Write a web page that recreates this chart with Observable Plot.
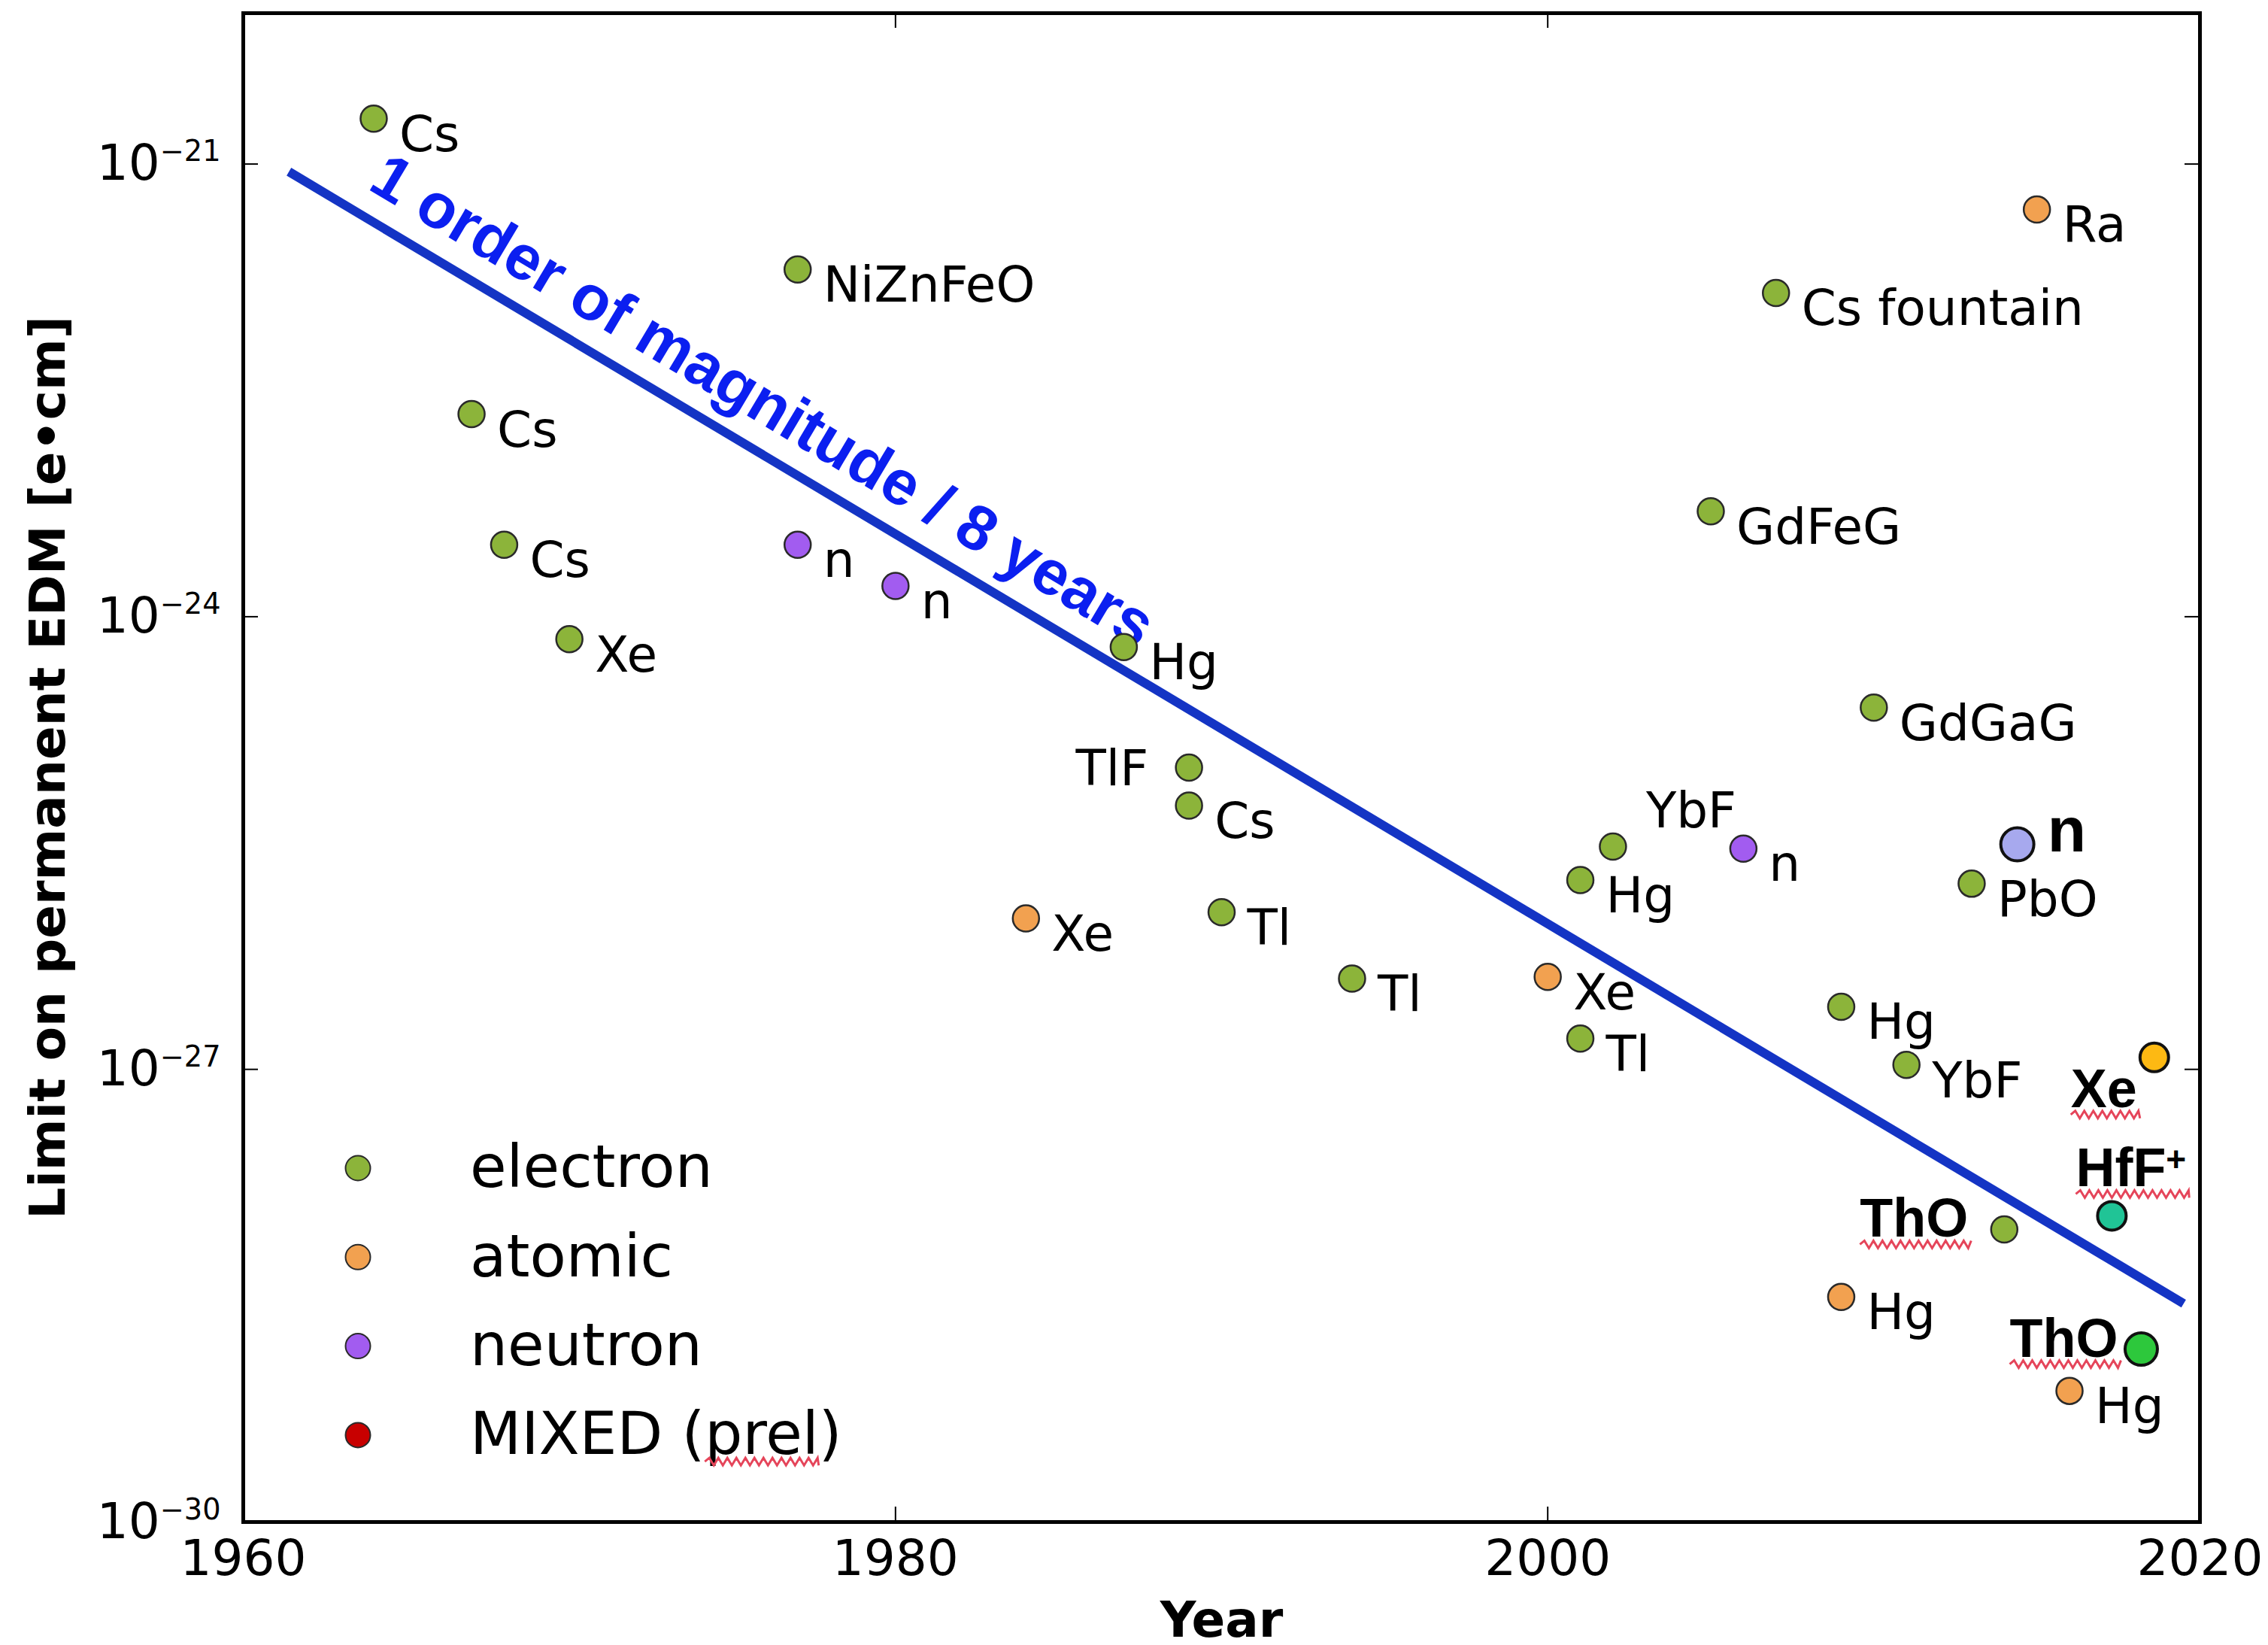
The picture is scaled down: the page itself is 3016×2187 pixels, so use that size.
<!DOCTYPE html>
<html>
<head>
<meta charset="utf-8">
<script src="https://cdn.jsdelivr.net/npm/d3@7"></script>
<script src="https://cdn.jsdelivr.net/npm/@observablehq/plot@0.6"></script>
<style>
  body { margin: 0; background: #fff; }
  #chart { width: 3016px; height: 2187px; }
</style>
</head>
<body>
<div id="chart"></div>
<script>
// ---- Data: upper limits on permanent electric dipole moments ----
const names = ["Cs", "Cs", "Cs", "Xe", "NiZnFeO", "Hg", "TlF", "Cs", "Tl", "Tl", "Hg", "YbF", "Tl", "GdFeG",
  "Cs fountain", "Hg", "GdGaG", "YbF", "PbO", "ThO",
  "Xe", "Xe", "Hg", "Ra", "Hg",
  "n", "n", "n"];
const years = [1964, 1967, 1968, 1970, 1977, 1987, 1989, 1989, 1990, 1994, 2001, 2002, 2001, 2005,
  2007, 2009, 2010, 2011, 2013, 2014,
  1984, 2000, 2009, 2015, 2016,
  1977, 1980, 2006];
const limits = [2.0e-21, 2.2e-23, 3.0e-24, 7.1e-25, 2.0e-22, 6.3e-25, 1.0e-25, 5.6e-26, 1.1e-26, 4.0e-27, 1.8e-26, 3.0e-26, 1.6e-27, 5.0e-24,
  1.4e-22, 2.6e-27, 2.5e-25, 1.07e-27, 1.7e-26, 8.7e-29,
  1.0e-26, 4.1e-27, 3.1e-29, 5.0e-22, 7.4e-30,
  3.0e-24, 1.6e-24, 2.9e-26];
const kinds = ["electron", "electron", "electron", "electron", "electron", "electron", "electron", "electron", "electron", "electron",
  "electron", "electron", "electron", "electron", "electron", "electron", "electron", "electron", "electron", "electron",
  "atomic", "atomic", "atomic", "atomic", "atomic",
  "neutron", "neutron", "neutron"];

// Most recent results, drawn larger
const recentNames = ["n", "Xe", "HfF+", "ThO"];
const recentYears = [2014.4, 2018.6, 2017.3, 2018.2];
const recentLimits = [3.1e-26, 1.2e-27, 1.07e-28, 1.4e-29];

// Trend line: one order of magnitude every ~8 years
const trendYears = [1961.4, 2019.5];
const trendLimits = [8.9e-22, 2.8e-29];
const trendText = "1 order of magnitude / 8 years";

// Axes
const xDomain = [1960, 2020];
const yDomain = [1e-30, 1e-20];
const xTicks = [1960, 1980, 2000, 2020];
const yTicks = [1e-30, 1e-27, 1e-24, 1e-21];
const xLabel = "Year";
const yLabel = "Limit on permanent EDM [e\u2022cm]";

// Legend
const legendKinds = ["electron", "atomic", "neutron", "MIXED"];
const legendLabels = ["electron", "atomic", "neutron", "MIXED (prel)"];

// ---- Styles ----
const W = 3016, H = 2187;
const M = {top: 17, right: 91, bottom: 164, left: 323};
const PW = W - M.left - M.right, PH = H - M.top - M.bottom;
const baseFont = "'DejaVu Sans', sans-serif";
const boldFont = "'Liberation Sans', Arial, sans-serif";
const kindFill = {electron: "#8cb43a", atomic: "#f2a150", neutron: "#a25cf0", MIXED: "#c80000"};
const recentFill = {"n": "#a7a9ee", "Xe": "#fdb913", "HfF+": "#20c496", "ThO": "#2dc83c"};
const recentR = {"n": 22, "Xe": 19, "HfF+": 19, "ThO": 21.5};
const lineBlue = "#1434c4";
const textBlue = "#0b1ff0";
const squiggleRed = "#e5455a";

// Label placement (pixel offsets from the dot; baseline at dy)
const defaultPlacement = {textAnchor: "start", dx: 34, dy: 43};
const labelPlacement = {
  "TlF|1989": {textAnchor: "end", dx: -54, dy: 23},
  "YbF|2002": {textAnchor: "start", dx: 44, dy: -25},
  "ThO|2014": {textAnchor: "end", dx: -48, dy: 10, bold: true, flagged: true}
};
const recentPlacement = {
  "n": {textAnchor: "start", dx: 40, dy: 9, fontSize: 84},
  "Xe": {textAnchor: "end", dx: -23, dy: 66, flagged: true},
  "HfF+": {textAnchor: "start", dx: -48, dy: -39, flagged: true},
  "ThO": {textAnchor: "end", dx: -31, dy: 10, flagged: true}
};

// ---- Tables ----
const points = years.map((year, i) => ({year, limit: limits[i], name: names[i], kind: kinds[i], key: `${names[i]}|${year}`}));
const recent = recentYears.map((year, i) => ({year, limit: recentLimits[i], name: recentNames[i]}));
const trend = trendYears.map((year, i) => ({year, limit: trendLimits[i]}));

// Caption sits a short way along the trend line, parallel to it
const xs = d3.scaleLinear(xDomain, [M.left, W - M.right]);
const ys = d3.scaleLog(yDomain, [H - M.bottom, M.top]);
const angle = Math.atan2(ys(trendLimits[1]) - ys(trendLimits[0]), xs(trendYears[1]) - xs(trendYears[0])) * 180 / Math.PI;
const rad = angle * Math.PI / 180;
const captionT = 0.034, captionGap = 34;
const caption = [{
  year: trendYears[0] + captionT * (trendYears[1] - trendYears[0]),
  limit: Math.exp(Math.log(trendLimits[0]) + captionT * (Math.log(trendLimits[1]) - Math.log(trendLimits[0]))),
  text: trendText
}];

const labelMark = (data, p, bold) => Plot.text(data, {
  x: "year", y: "limit", text: "name",
  textAnchor: p.textAnchor, lineAnchor: "bottom", dx: p.dx, dy: p.dy,
  fontSize: p.fontSize ?? (bold ? 72 : 66),
  fontFamily: bold ? boldFont : baseFont,
  fontWeight: bold ? "bold" : "normal",
  fill: "black",
  ariaLabel: d => p.flagged ? "flagged label" : d.name
});

const marks = [
  Plot.line(trend, {x: "year", y: "limit", stroke: lineBlue, strokeWidth: 12, strokeLinecap: "butt"}),
  Plot.text(caption, {
    x: "year", y: "limit", text: "text", rotate: angle,
    textAnchor: "start", lineAnchor: "bottom",
    dx: captionGap * Math.sin(rad), dy: -captionGap * Math.cos(rad),
    fontFamily: boldFont, fontWeight: "bold", fontSize: 84, fill: textBlue
  }),
  Plot.dot(points, {x: "year", y: "limit", r: 17.5, fill: d => kindFill[d.kind], stroke: "#2a2a2a", strokeWidth: 2.5}),
  ...recent.map(d => Plot.dot([d], {x: "year", y: "limit", r: recentR[d.name], fill: recentFill[d.name], stroke: "#111", strokeWidth: 4})),
  labelMark(points.filter(d => !labelPlacement[d.key]), defaultPlacement, false),
  ...Object.entries(labelPlacement).map(([key, p]) => labelMark(points.filter(d => d.key === key), p, !!p.bold)),
  ...recent.map(d => labelMark([d], recentPlacement[d.name], true)),
  // inward tick marks on all four sides
  Plot.tickY(yTicks, {y: d => d, insetRight: PW - 20, stroke: "black", strokeWidth: 2}),
  Plot.tickY(yTicks, {y: d => d, insetLeft: PW - 20, stroke: "black", strokeWidth: 2}),
  Plot.tickX(xTicks, {x: d => d, insetTop: PH - 20, stroke: "black", strokeWidth: 2}),
  Plot.tickX(xTicks, {x: d => d, insetBottom: PH - 20, stroke: "black", strokeWidth: 2}),
  Plot.frame({stroke: "black", strokeWidth: 5}),
  Plot.axisX({ticks: xTicks, anchor: "bottom", tickSize: 0, tickPadding: 24, fontSize: 66, label: null, tickFormat: d => String(d)}),
  Plot.axisY({ticks: yTicks, anchor: "left", tickSize: 0, tickPadding: 30, fontSize: 66, label: null,
    tickFormat: d => `10^\u2212${Math.round(-Math.log10(d))}`}),
  Plot.text([xLabel], {frameAnchor: "bottom", dy: 152, textAnchor: "middle", lineAnchor: "bottom", text: d => d, fontWeight: "bold", fontSize: 66, fill: "black"}),
  Plot.text([yLabel], {frameAnchor: "left", dx: -259, rotate: -90, textAnchor: "middle", lineAnchor: "middle", text: d => d, fontWeight: "bold", fontSize: 66, fill: "black"})
];

const chart = Plot.plot({
  width: W, height: H,
  marginTop: M.top, marginRight: M.right, marginBottom: M.bottom, marginLeft: M.left,
  x: {domain: xDomain},
  y: {type: "log", domain: yDomain},
  style: {fontFamily: baseFont, fontSize: "66px", background: "white", color: "black", overflow: "visible"},
  marks
});
document.getElementById("chart").appendChild(chart);

const NS = "http://www.w3.org/2000/svg";
const svg = d3.select(chart);

// Exponents on the y tick labels
chart.querySelectorAll('g[aria-label="y-axis tick label"] text').forEach(t => {
  const [base, exp] = t.textContent.split("^");
  t.textContent = base;
  const sup = document.createElementNS(NS, "tspan");
  sup.setAttribute("dy", -0.38 * 66);
  sup.setAttribute("font-size", 0.58 * 66);
  sup.textContent = exp;
  t.appendChild(sup);
});

// Superscript charge on the ion label
chart.querySelectorAll("text").forEach(t => {
  if (t.textContent === "HfF+") {
    t.textContent = "HfF";
    const sup = document.createElementNS(NS, "tspan");
    sup.setAttribute("dy", -20);
    sup.setAttribute("font-size", 46);
    sup.textContent = "+";
    t.appendChild(sup);
  }
});

// Red wavy underline, from x0 to x1 at height y, in the given parent and transform
function squiggle(parent, transform, x0, x1, y) {
  const period = 12, amp = 5;
  let d = `M${x0},${y}`;
  for (let x = x0, k = 0; x < x1; k++) {
    x = Math.min(x1, x + period / 2);
    d += `L${x},${y + (k % 2 ? amp : -amp)}`;
  }
  const path = parent.append("path").attr("d", d)
    .attr("fill", "none").attr("stroke", squiggleRed).attr("stroke-width", 3)
    .attr("stroke-linejoin", "miter");
  if (transform) path.attr("transform", transform);
}

chart.querySelectorAll('text[aria-label="flagged label"]').forEach(t => {
  const n = t.getNumberOfChars();
  const x0 = t.getStartPositionOfChar(0).x;
  const x1 = t.getEndPositionOfChar(n - 1).x;
  const y = t.getStartPositionOfChar(0).y;
  squiggle(d3.select(t.parentNode), t.getAttribute("transform"), x0, x1 + 4, y + 10);
});

// Legend inside the frame, lower left
const legend = svg.append("g").attr("aria-label", "legend").attr("text-anchor", "start");
legendKinds.forEach((kind, i) => {
  const cy = M.top + 1536 + i * 118.3;
  legend.append("circle").attr("cx", M.left + 153).attr("cy", cy).attr("r", 16.5)
    .attr("fill", kindFill[kind]).attr("stroke", "#2a2a2a").attr("stroke-width", 2);
  const t = legend.append("text").attr("x", M.left + 302).attr("y", cy).attr("dy", "0.32em")
    .attr("text-anchor", "start")
    .attr("font-family", baseFont).attr("font-size", 79).attr("fill", "black")
    .text(legendLabels[i]);
  const p = legendLabels[i].indexOf("prel");
  if (p >= 0) {
    const node = t.node();
    const x0 = node.getStartPositionOfChar(p).x;
    const x1 = node.getEndPositionOfChar(p + 3).x;
    const y = node.getStartPositionOfChar(p).y;
    squiggle(legend, null, x0, x1, y + 10);
  }
});
</script>
</body>
</html>
